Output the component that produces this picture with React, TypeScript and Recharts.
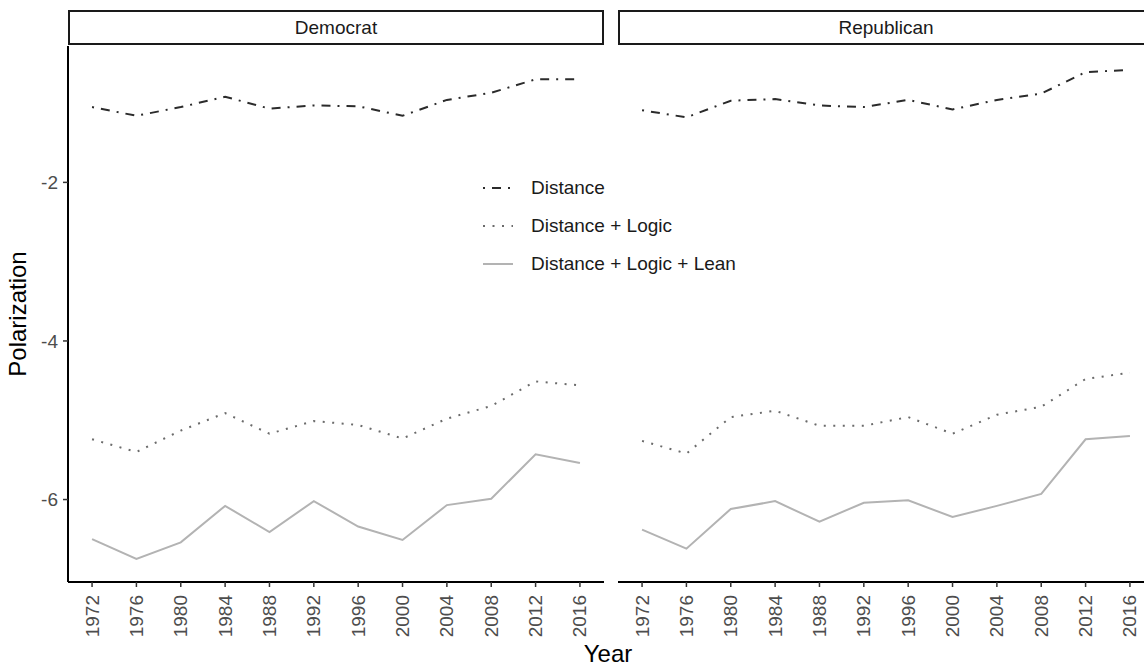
import { Label, Legend, Line, LineChart, XAxis, YAxis } from "recharts";

const years = [1972, 1976, 1980, 1984, 1988, 1992, 1996, 2000, 2004, 2008, 2012, 2016];
const yTicks = [-6, -4, -2];

const demDistance = [-1.05, -1.16, -1.05, -0.92, -1.07, -1.03, -1.04, -1.16, -0.96, -0.87, -0.7, -0.7];
const demLogic = [-5.24, -5.4, -5.13, -4.91, -5.17, -5.01, -5.06, -5.23, -4.98, -4.82, -4.51, -4.56];
const demLean = [-6.5, -6.75, -6.54, -6.08, -6.41, -6.02, -6.34, -6.51, -6.07, -5.99, -5.43, -5.54];

const repDistance = [-1.09, -1.18, -0.97, -0.95, -1.03, -1.05, -0.96, -1.08, -0.96, -0.88, -0.61, -0.58];
const repLogic = [-5.26, -5.42, -4.96, -4.88, -5.07, -5.07, -4.96, -5.17, -4.93, -4.83, -4.48, -4.4];
const repLean = [-6.38, -6.62, -6.12, -6.02, -6.28, -6.04, -6.01, -6.22, -6.08, -5.93, -5.24, -5.2];

const FONT = '"Liberation Sans", Arial, Helvetica, sans-serif';

const series = [
  { key: "distance", name: "Distance", color: "#2b2b2b", dash: "2 7 9 7" },
  { key: "logic", name: "Distance + Logic", color: "#6b6b6b", dash: "2 7.5" },
  { key: "lean", name: "Distance + Logic + Lean", color: "#b3b3b3", dash: undefined },
];

const buildRows = (distance: number[], logic: number[], lean: number[]) =>
  years.map((year, i) => ({ year, distance: distance[i], logic: logic[i], lean: lean[i] }));

const demData = buildRows(demDistance, demLogic, demLean);
const repData = buildRows(repDistance, repLogic, repLean);

const X_DOMAIN: [number, number] = [1969.83, 2018.17];
const Y_DOMAIN: [number, number] = [-7.04, -0.28];

function YearTick({ x, y, payload }: any) {
  const ty = y + 2;
  return (
    <text
      x={x}
      y={ty}
      transform={`rotate(-90 ${x} ${ty})`}
      textAnchor="end"
      dominantBaseline="central"
      fill="#4d4d4d"
      fontSize={19}
      fontFamily={FONT}
    >
      {payload.value}
    </text>
  );
}

function LegendBox() {
  return (
    <div style={{ fontFamily: FONT }}>
      {series.map((s) => (
        <div key={s.key} style={{ display: "flex", alignItems: "center", height: 38 }}>
          <svg width={30} height={10}>
            <line x1={0} y1={5} x2={30} y2={5} stroke={s.color} strokeWidth={2} strokeDasharray={s.dash} />
          </svg>
          <span style={{ marginLeft: 18, fontSize: 19, color: "#1a1a1a", whiteSpace: "nowrap" }}>{s.name}</span>
        </div>
      ))}
    </div>
  );
}

function Strip({ left, label }: { left: number; label: string }) {
  return (
    <div
      style={{
        position: "absolute",
        left,
        top: 10,
        width: 536,
        height: 35,
        boxSizing: "border-box",
        border: "2px solid #1a1a1a",
        background: "#fff",
        display: "flex",
        alignItems: "center",
        justifyContent: "center",
        fontSize: 19,
        color: "#1a1a1a",
        fontFamily: FONT,
      }}
    >
      {label}
    </div>
  );
}

function Lines() {
  return series.map((s) => (
    <Line
      key={s.key}
      type="linear"
      dataKey={s.key}
      name={s.name}
      stroke={s.color}
      strokeWidth={2}
      strokeDasharray={s.dash}
      dot={false}
      activeDot={false}
      isAnimationActive={false}
    />
  ));
}

export default function App() {
  return (
    <div
      style={{
        position: "absolute",
        left: 0,
        top: 0,
        width: 1144,
        height: 669,
        overflow: "hidden",
        background: "#fff",
        fontFamily: FONT,
      }}
    >
      <Strip left={68} label="Democrat" />
      <Strip left={618} label="Republican" />

      {/* Democrat panel */}
      <div style={{ position: "absolute", left: 0, top: 0 }}>
        <LineChart width={604} height={669} data={demData} margin={{ top: 46, right: 0, bottom: 27, left: 0 }}>
          <XAxis
            dataKey="year"
            type="number"
            domain={X_DOMAIN}
            ticks={years}
            interval={0}
            height={60}
            tickSize={5}
            tickMargin={6}
            tick={<YearTick />}
            axisLine={{ stroke: "#000", strokeWidth: 2 }}
            tickLine={{ stroke: "#333", strokeWidth: 1.5 }}
          />
          <YAxis
            type="number"
            domain={Y_DOMAIN}
            ticks={yTicks}
            width={68}
            tickSize={5}
            tickMargin={5}
            tick={{ fill: "#4d4d4d", fontSize: 19, fontFamily: FONT }}
            axisLine={{ stroke: "#000", strokeWidth: 2 }}
            tickLine={{ stroke: "#333", strokeWidth: 1.5 }}
          >
            <Label
              content={({ viewBox }: any) => {
                const cx = 26;
                const cy = viewBox.y + viewBox.height / 2;
                return (
                  <text
                    x={cx}
                    y={cy}
                    transform={`rotate(-90 ${cx} ${cy})`}
                    textAnchor="middle"
                    fontSize={24}
                    fill="#000"
                    fontFamily={FONT}
                  >
                    Polarization
                  </text>
                );
              }}
            />
          </YAxis>
          <Legend
            layout="horizontal"
            verticalAlign="middle"
            align="center"
            content={<LegendBox />}
            wrapperStyle={{ position: "absolute", left: 483, top: 169, width: 300, height: 114 }}
          />
          {Lines()}
        </LineChart>
      </div>

      {/* Republican panel */}
      <div style={{ position: "absolute", left: 604, top: 0 }}>
        <LineChart width={550} height={669} data={repData} margin={{ top: 46, right: 0, bottom: 27, left: 14 }}>
          <XAxis
            dataKey="year"
            type="number"
            domain={X_DOMAIN}
            ticks={years}
            interval={0}
            height={60}
            tickSize={5}
            tickMargin={6}
            tick={<YearTick />}
            axisLine={{ stroke: "#000", strokeWidth: 2 }}
            tickLine={{ stroke: "#333", strokeWidth: 1.5 }}
          />
          <YAxis type="number" domain={Y_DOMAIN} ticks={yTicks} hide />
          {Lines()}
        </LineChart>
      </div>

      <div
        style={{
          position: "absolute",
          left: 0,
          width: 1216,
          top: 640,
          textAlign: "center",
          fontSize: 24,
          color: "#000",
          fontFamily: FONT,
        }}
      >
        Year
      </div>
    </div>
  );
}
